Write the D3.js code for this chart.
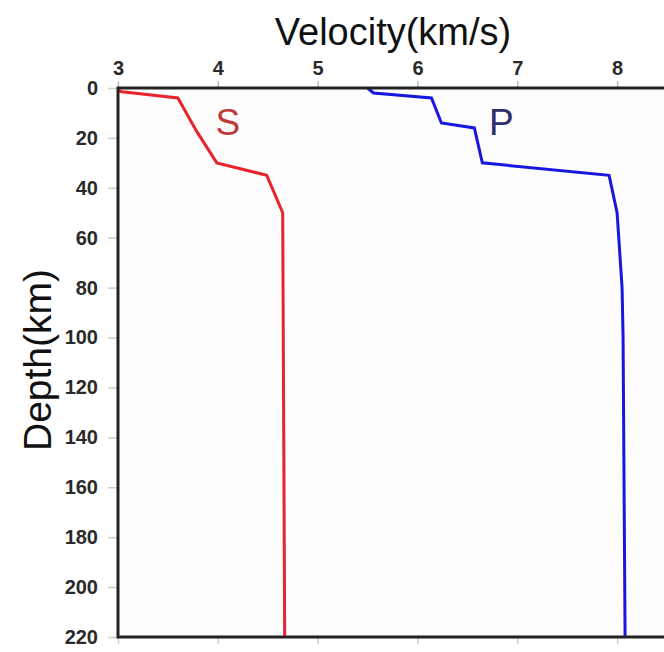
<!DOCTYPE html>
<html>
<head>
<meta charset="utf-8">
<script src="https://cdn.jsdelivr.net/npm/d3@7"></script>
<style>
  body { margin: 0; background: #fff; }
  text { font-family: "Liberation Sans", Arial, sans-serif; }
</style>
</head>
<body>
<div id="chart"></div>
<script>
// velocity model, depth in km, velocity in km/s
const sDepth = [1, 1.5, 4, 17.5, 30, 35, 50, 220];
const sVel = [3.0, 3.04, 3.6, 3.79, 3.99, 4.49, 4.65, 4.67];
const pDepth = [0, 2, 4, 14, 16, 30, 35, 50, 80, 100, 220];
const pVel = [5.5, 5.56, 6.14, 6.24, 6.57, 6.65, 7.92, 8.0, 8.05, 8.06, 8.08];
const xTicks = [3, 4, 5, 6, 7, 8];
const yTicks = [0, 20, 40, 60, 80, 100, 120, 140, 160, 180, 200, 220];

const width = 664, height = 652;
const margin = { top: 88, left: 118, bottom: 15 };

const svg = d3.select("#chart").append("svg")
  .attr("width", width).attr("height", height);

var x = d3.scaleLinear().domain([3, 8.47]).range([margin.left, width]);
var y = d3.scaleLinear().domain([0, 220]).range([margin.top, 637]);

// plot background
svg.append("rect")
  .attr("x", x(3)).attr("y", y(0))
  .attr("width", width - x(3) + 10).attr("height", y(220) - y(0))
  .attr("fill", "#fdfdfd");

// top axis (labels)
svg.append("g")
  .attr("transform", `translate(0,${y(0)})`)
  .call(d3.axisTop(x).tickValues(xTicks).tickSize(7).tickPadding(6).tickFormat(d3.format("d")))
  .call(g => g.select(".domain").remove())
  .call(g => g.selectAll("line").attr("stroke", "#bbb").attr("stroke-width", 1.5))
  .call(g => g.selectAll("text").attr("font-size", 20).attr("font-weight", "bold").attr("fill", "#2a2a2a"));

// bottom ticks
svg.append("g")
  .attr("transform", `translate(0,${y(220)})`)
  .call(d3.axisBottom(x).tickValues(xTicks).tickSize(7).tickFormat(""))
  .call(g => g.select(".domain").remove())
  .call(g => g.selectAll("line").attr("stroke", "#ccc").attr("stroke-width", 1.5));

// left axis
svg.append("g")
  .attr("transform", `translate(${x(3)},0)`)
  .call(d3.axisLeft(y).tickValues(yTicks).tickSize(10).tickPadding(10))
  .call(g => g.select(".domain").remove())
  .call(g => g.selectAll("line").attr("stroke", "#ccc").attr("stroke-width", 1.5))
  .call(g => g.selectAll("text").attr("font-size", 20).attr("font-weight", "bold").attr("fill", "#2a2a2a"));

const line = d3.line().x(d => x(d[1])).y(d => y(d[0]));

svg.append("path")
  .datum(sDepth.map((d, i) => [d, sVel[i]]))
  .attr("d", line)
  .attr("fill", "none").attr("stroke", "#e8232b").attr("stroke-width", 3);

svg.append("path")
  .datum(pDepth.map((d, i) => [d, pVel[i]]))
  .attr("d", line)
  .attr("fill", "none").attr("stroke", "#1717e0").attr("stroke-width", 3);

// frame
svg.append("path")
  .attr("d", `M${width + 5},${y(0)} H${x(3)} V${y(220)} H${width + 5}`)
  .attr("fill", "none").attr("stroke", "#222").attr("stroke-width", 3);

// curve labels
svg.append("text").attr("x", x(4.1)).attr("y", y(18.7))
  .attr("text-anchor", "middle").attr("font-size", 37).attr("fill", "#c0393a").text("S");
svg.append("text").attr("x", x(6.84)).attr("y", y(18.7))
  .attr("text-anchor", "middle").attr("font-size", 37).attr("fill", "#2e2e6a").text("P");

// axis titles
svg.append("text").attr("x", 393).attr("y", 45)
  .attr("text-anchor", "middle").attr("font-size", 38).attr("fill", "#111")
  .text("Velocity(km/s)");
svg.append("text")
  .attr("transform", `translate(51,${y(109)}) rotate(-90)`)
  .attr("text-anchor", "middle").attr("font-size", 39).attr("fill", "#111")
  .text("Depth(km)");
</script>
</body>
</html>
